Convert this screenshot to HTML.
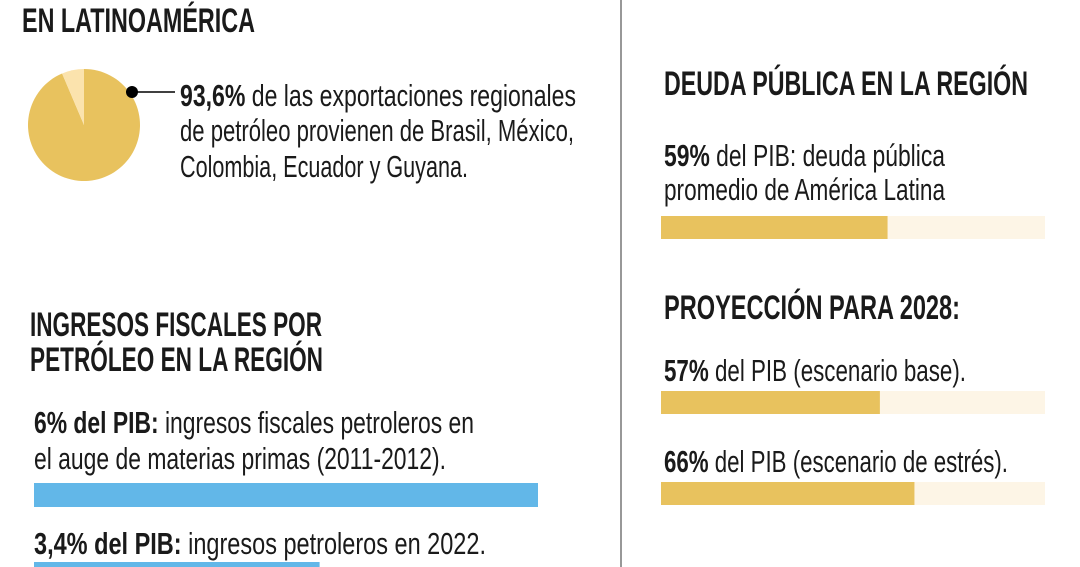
<!DOCTYPE html>
<html><head><meta charset="utf-8">
<style>
html,body{margin:0;padding:0;background:#fff;}
svg{display:block;}
text{font-family:"Liberation Sans Narrow","Liberation Sans",sans-serif;fill:#1a1a1a;}
.h{font-weight:bold;font-size:34px;}
.b{font-size:31px;}
.bb{font-weight:bold;}
</style></head>
<body>
<svg id="chart" width="1080" height="567" viewBox="0 0 1080 567">
<line x1="621" y1="0" x2="621" y2="567" stroke="#777" stroke-width="1.5"/>

<text class="h" x="22" y="32" textLength="233" lengthAdjust="spacingAndGlyphs">EN LATINOAMÉRICA</text>
<g id="pie"></g>
<circle cx="132" cy="92" r="6" fill="#000"/>
<line x1="132" y1="92" x2="175" y2="92" stroke="#000" stroke-width="1.5"/>
<text class="b" x="180" y="106" textLength="396" lengthAdjust="spacingAndGlyphs"><tspan class="bb">93,6%</tspan> de las exportaciones regionales</text>
<text class="b" x="180" y="141" textLength="394" lengthAdjust="spacingAndGlyphs">de petróleo provienen de Brasil, México,</text>
<text class="b" x="180" y="177" textLength="288" lengthAdjust="spacingAndGlyphs">Colombia, Ecuador y Guyana.</text>

<text class="h" x="30" y="336" textLength="292" lengthAdjust="spacingAndGlyphs">INGRESOS FISCALES POR</text>
<text class="h" x="30" y="371" textLength="293" lengthAdjust="spacingAndGlyphs">PETRÓLEO EN LA REGIÓN</text>
<text class="b" x="34" y="433" textLength="440" lengthAdjust="spacingAndGlyphs"><tspan class="bb">6% del PIB:</tspan> ingresos fiscales petroleros en</text>
<text class="b" x="34" y="469" textLength="412" lengthAdjust="spacingAndGlyphs">el auge de materias primas (2011-2012).</text>
<text class="b" x="34" y="554" textLength="452" lengthAdjust="spacingAndGlyphs"><tspan class="bb">3,4% del PIB:</tspan> ingresos petroleros en 2022.</text>
<g id="blue"></g>

<text class="h" x="664" y="95" textLength="364" lengthAdjust="spacingAndGlyphs">DEUDA PÚBLICA EN LA REGIÓN</text>
<text class="b" x="664" y="166" textLength="281" lengthAdjust="spacingAndGlyphs"><tspan class="bb">59%</tspan> del PIB: deuda pública</text>
<text class="b" x="664" y="200" textLength="281" lengthAdjust="spacingAndGlyphs">promedio de América Latina</text>
<text class="h" x="664" y="319" textLength="296" lengthAdjust="spacingAndGlyphs">PROYECCIÓN PARA 2028:</text>
<text class="b" x="664" y="381" textLength="302" lengthAdjust="spacingAndGlyphs"><tspan class="bb">57%</tspan> del PIB (escenario base).</text>
<text class="b" x="664" y="472" textLength="344" lengthAdjust="spacingAndGlyphs"><tspan class="bb">66%</tspan> del PIB (escenario de estrés).</text>
<g id="gold"></g>
</svg>
<script>
const pieShare = [93.6, 6.4];
const revenueLabels = ["2011-2012", "2022"];
const revenueValues = [6, 3.4];
const debtLabels = ["promedio", "base-2028", "estres-2028"];
const debtValues = [59, 57, 66];

const NS = "http://www.w3.org/2000/svg";
function mk(tag, attrs){const e=document.createElementNS(NS,tag);for(const k in attrs)e.setAttribute(k,attrs[k]);return e;}

(function(){
  const g=document.getElementById('pie');
  const cx=84, cy=125, r=56;
  const total=pieShare.reduce((a,b)=>a+b,0);
  const colors=["#e8c25e","#fbe3ad"];
  let a0=0;
  pieShare.forEach((v,i)=>{
    const a1=a0+v/total*2*Math.PI;
    const x0=cx+r*Math.sin(a0), y0=cy-r*Math.cos(a0);
    const x1=cx+r*Math.sin(a1), y1=cy-r*Math.cos(a1);
    const large=(a1-a0)>Math.PI?1:0;
    const p=mk('path',{d:`M${cx},${cy} L${x0},${y0} A${r},${r} 0 ${large} 1 ${x1},${y1} Z`,fill:colors[i]});
    
    
    g.appendChild(p);
    a0=a1;
  });
})();

(function(){
  const g=document.getElementById('blue');
  const x0=34, maxV=6, maxW=504, ys=[483,562], h=24;
  revenueValues.forEach((v,i)=>{
    const r=mk('rect',{x:x0,y:ys[i],width:v/maxV*maxW,height:h,fill:"#62b7e8"});
    
    
    g.appendChild(r);
  });
})();

(function(){
  const g=document.getElementById('gold');
  const x0=661, W=384, ys=[216,391,482], h=23;
  debtValues.forEach((v,i)=>{
    const t=mk('rect',{x:x0,y:ys[i],width:W,height:h,fill:"#fdf5e6"});
    
    
    g.appendChild(t);
    const r=mk('rect',{x:x0,y:ys[i],width:v/100*W,height:h,fill:"#e8c25e"});
    
    
    g.appendChild(r);
  });
})();
</script>
</body></html>
